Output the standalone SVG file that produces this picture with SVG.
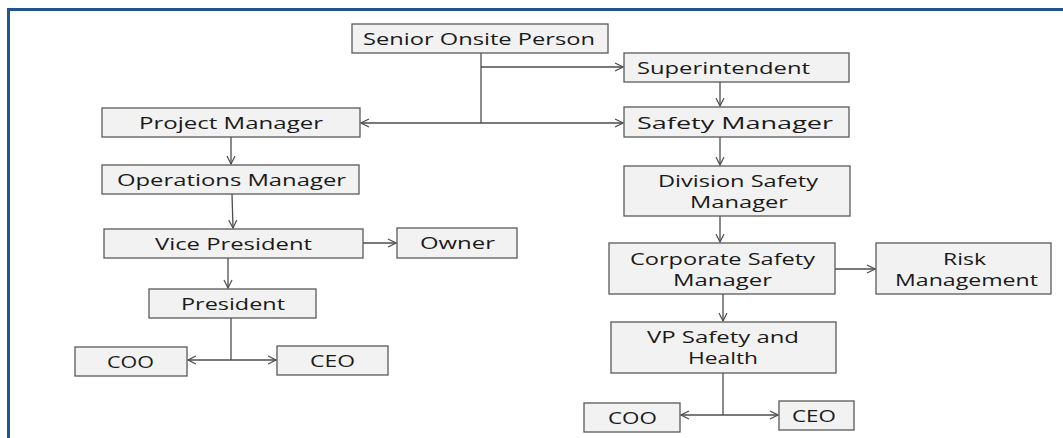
<svg xmlns="http://www.w3.org/2000/svg" width="1063" height="438" viewBox="0 0 1063 438">
  <style>
    .box { fill: #f2f2f2; stroke: #595959; stroke-width: 1.3; }
    .lbl { font-family: "Open Sans", "Liberation Sans", sans-serif; font-size: 17px; fill: #1a1a1a; text-anchor: start; }
    .wire { fill: none; stroke: #4d4d4d; stroke-width: 1.3; }
    .frame { fill: none; stroke: #1f5692; stroke-width: 3; }
  </style>
  <defs>
    <marker id="arrow" viewBox="0 0 10 10" refX="9" refY="5" markerWidth="10" markerHeight="10" markerUnits="userSpaceOnUse" orient="auto-start-reverse">
      <path d="M1,1 L9,5 L1,9" fill="none" stroke="#4d4d4d" stroke-width="1.2"/>
    </marker>
  </defs>

  <rect width="1063" height="438" fill="#ffffff"/>
  <!-- outer frame, clipped at right and bottom -->
  <path class="frame" d="M8.5,440 L8.5,9.5 L1070,9.5"/>

  <g id="connectors">
    <!-- Senior Onsite Person branches -->
    <path class="wire" d="M481,53 L481,123"/>
    <path class="wire" d="M481,67 L623,67" marker-end="url(#arrow)"/>
    <path class="wire" d="M481,123 L361,123" marker-end="url(#arrow)"/>
    <path class="wire" d="M481,123 L623,123" marker-end="url(#arrow)"/>
    <!-- left chain -->
    <path class="wire" d="M231,137 L231,164" marker-end="url(#arrow)"/>
    <path class="wire" d="M232,194 L233,228" marker-end="url(#arrow)"/>
    <path class="wire" d="M363,243 L396,243" marker-end="url(#arrow)"/>
    <path class="wire" d="M228,258 L228,288" marker-end="url(#arrow)"/>
    <path class="wire" d="M231,318 L231,360"/>
    <path class="wire" d="M188,360 L276,360" marker-start="url(#arrow)" marker-end="url(#arrow)"/>
    <!-- right chain -->
    <path class="wire" d="M720,82 L720,106" marker-end="url(#arrow)"/>
    <path class="wire" d="M720,137 L720,165" marker-end="url(#arrow)"/>
    <path class="wire" d="M720,216 L720,242" marker-end="url(#arrow)"/>
    <path class="wire" d="M835,269 L875,269" marker-end="url(#arrow)"/>
    <path class="wire" d="M723,294 L723,321" marker-end="url(#arrow)"/>
    <path class="wire" d="M723,373 L723,415"/>
    <path class="wire" d="M681,415 L778,415" marker-start="url(#arrow)" marker-end="url(#arrow)"/>
  </g>

  <g id="senior-onsite-person">
    <rect class="box" x="352" y="24" width="256" height="29"/>
    <text class="lbl" x="363" y="45" textLength="232" lengthAdjust="spacingAndGlyphs">Senior Onsite Person</text>
  </g>
  <g id="superintendent">
    <rect class="box" x="624" y="53" width="225" height="29"/>
    <text class="lbl" x="637" y="74" textLength="173" lengthAdjust="spacingAndGlyphs">Superintendent</text>
  </g>
  <g id="safety-manager">
    <rect class="box" x="624" y="107" width="225" height="30"/>
    <text class="lbl" x="637" y="129" textLength="196" lengthAdjust="spacingAndGlyphs">Safety Manager</text>
  </g>
  <g id="project-manager">
    <rect class="box" x="102" y="108" width="258" height="29"/>
    <text class="lbl" x="139" y="129" textLength="184" lengthAdjust="spacingAndGlyphs">Project Manager</text>
  </g>
  <g id="operations-manager">
    <rect class="box" x="102" y="165" width="257" height="29"/>
    <text class="lbl" x="117" y="186" textLength="229" lengthAdjust="spacingAndGlyphs">Operations Manager</text>
  </g>
  <g id="vice-president">
    <rect class="box" x="104" y="229" width="259" height="29"/>
    <text class="lbl" x="155" y="250" textLength="157" lengthAdjust="spacingAndGlyphs">Vice President</text>
  </g>
  <g id="owner">
    <rect class="box" x="397" y="228" width="120" height="30"/>
    <text class="lbl" x="420" y="249" textLength="75" lengthAdjust="spacingAndGlyphs">Owner</text>
  </g>
  <g id="president">
    <rect class="box" x="149" y="289" width="167" height="29"/>
    <text class="lbl" x="181" y="310" textLength="104" lengthAdjust="spacingAndGlyphs">President</text>
  </g>
  <g id="coo-left">
    <rect class="box" x="75" y="347" width="112" height="29"/>
    <text class="lbl" x="107" y="368" textLength="47" lengthAdjust="spacingAndGlyphs">COO</text>
  </g>
  <g id="ceo-left">
    <rect class="box" x="277" y="346" width="111" height="29"/>
    <text class="lbl" x="310" y="367" textLength="45" lengthAdjust="spacingAndGlyphs">CEO</text>
  </g>
  <g id="division-safety-manager">
    <rect class="box" x="624" y="166" width="226" height="50"/>
    <text class="lbl" x="658" y="187" textLength="160" lengthAdjust="spacingAndGlyphs">Division Safety</text>
    <text class="lbl" x="690" y="208" textLength="98" lengthAdjust="spacingAndGlyphs">Manager</text>
  </g>
  <g id="corporate-safety-manager">
    <rect class="box" x="609" y="243" width="226" height="51"/>
    <text class="lbl" x="630" y="265" textLength="185" lengthAdjust="spacingAndGlyphs">Corporate Safety</text>
    <text class="lbl" x="673" y="286" textLength="99" lengthAdjust="spacingAndGlyphs">Manager</text>
  </g>
  <g id="risk-management">
    <rect class="box" x="876" y="243" width="175" height="51"/>
    <text class="lbl" x="943" y="265" textLength="43" lengthAdjust="spacingAndGlyphs">Risk</text>
    <text class="lbl" x="895" y="286" textLength="143" lengthAdjust="spacingAndGlyphs">Management</text>
  </g>
  <g id="vp-safety-health">
    <rect class="box" x="611" y="322" width="225" height="51"/>
    <text class="lbl" x="647" y="343" textLength="152" lengthAdjust="spacingAndGlyphs">VP Safety and</text>
    <text class="lbl" x="688" y="364" textLength="70" lengthAdjust="spacingAndGlyphs">Health</text>
  </g>
  <g id="coo-right">
    <rect class="box" x="584" y="403" width="96" height="29"/>
    <text class="lbl" x="608" y="424" textLength="49" lengthAdjust="spacingAndGlyphs">COO</text>
  </g>
  <g id="ceo-right">
    <rect class="box" x="779" y="401" width="75" height="29"/>
    <text class="lbl" x="792" y="422" textLength="44" lengthAdjust="spacingAndGlyphs">CEO</text>
  </g>
</svg>
